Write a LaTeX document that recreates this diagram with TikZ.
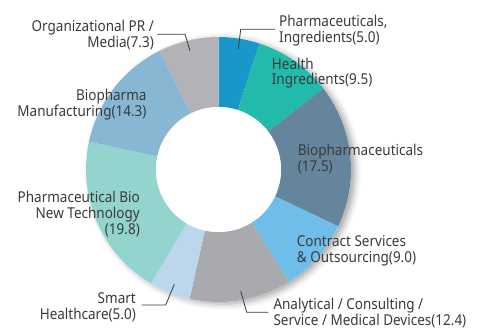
\documentclass[tikz,border=0pt]{standalone}
\usepackage{fontspec}
\setmainfont{Noto Sans}[FakeStretch=0.9]
\usepackage{tikz}
\usetikzlibrary{calc,shadows.blur}
\definecolor{pharmablue}{HTML}{1A97C9}
\definecolor{healthteal}{HTML}{22BBAB}
\definecolor{bioslate}{HTML}{64859B}
\definecolor{contractblue}{HTML}{6FBDE9}
\definecolor{analygrey}{HTML}{A8AAAD}
\definecolor{smartpale}{HTML}{BCD6EB}
\definecolor{newtechmint}{HTML}{94D4CE}
\definecolor{manufblue}{HTML}{87B7D3}
\definecolor{prgrey}{HTML}{B1B3B6}
\definecolor{labelgrey}{HTML}{3A3A3A}
\newcommand*{\Rout}{132.5}
\newcommand*{\Rin}{62.5}
\newcommand*{\DonutPieces}[1]{% #1 = list of from/to/colour (percent of 99.8)
\foreach \from/\to/\col in {#1} {
\pgfmathsetmacro{\a}{90-\from*3.6072}
\pgfmathsetmacro{\b}{90-\to*3.6072}
\fill [\col] (\a:\Rout) arc [start angle=\a, end angle=\b, radius=\Rout]
  -- (\b:\Rin) arc [start angle=\b, end angle=\a, radius=\Rin] -- cycle;
}%
}
\tikzset{
  lbl/.style={draw=none, inner sep=0pt, text=labelgrey,
    font=\fontsize{15}{15.7}\selectfont},
  leader/.style={draw=labelgrey, line width=0.8pt}
}

\begin{document}
\begin{tikzpicture}[x=1pt,y=1pt]
  \useasboundingbox (0,0) rectangle (486,329);

  \begin{scope}[shift={(218.5,159.5)}]
    \fill [white, blur shadow={shadow xshift=4pt, shadow yshift=-2pt,
      shadow blur radius=6pt, shadow opacity=35}] (0,0) circle (\Rout);
    \DonutPieces{0/5.0/pharmablue, 5.0/14.5/healthteal, 14.5/32.0/bioslate,
      32.0/41.0/contractblue, 41.0/53.4/analygrey, 53.4/58.4/smartpale,
      58.4/78.2/newtechmint, 78.2/92.5/manufblue, 92.5/99.8/prgrey}
    \fill [white] (0,0) circle (\Rin);
  \end{scope}

  % labels (base = last line)
  \node [lbl, anchor=base west, align=left] (pharma) at (279,286.5)
    {Pharmaceuticals,\\Ingredients(5.0)};
  \node [lbl, anchor=base west, align=left] (health) at (271.7,244)
    {Health\\Ingredients(9.5)};
  \node [lbl, anchor=base west, align=left] (biopharm) at (297.7,157.3)
    {Biopharmaceuticals\\(17.5)};
  \node [lbl, anchor=base west, align=left] (contract) at (296.7,66.7)
    {Contract Services\\\& Outsourcing(9.0)};
  \node [lbl, anchor=base west, align=left] (analy) at (273.3,4)
    {Analytical / Consulting /\\Service / Medical Devices(12.4)};
  \node [lbl, anchor=base east, align=right] (smart) at (136,9.7)
    {Smart\\Healthcare(5.0)};
  \node [lbl, anchor=base east, align=right] (newtech) at (140,94.7)
    {Pharmaceutical Bio\\New Technology\\(19.8)};
  \node [lbl, anchor=base east, align=right] (manuf) at (146.7,212.3)
    {Biopharma\\Manufacturing(14.3)};
  \node [lbl, anchor=base east, align=right] (orgpr) at (154,281.3)
    {Organizational PR /\\Media(7.3)};

  % leader lines
  \coordinate (pharmaA) at (238.3,280);
  \coordinate (pharmaB) at (240.7,299.7);
  \coordinate (pharmaC) at (275,299.7);
  \coordinate (orgA) at (190,278.3);
  \coordinate (orgB) at (185,294.7);
  \coordinate (orgC) at (157.3,294.7);
  \coordinate (smartA) at (174.3,44.7);
  \coordinate (smartB) at (165.7,24);
  \coordinate (smartC) at (141.7,24);
  \coordinate (analyA) at (240.7,38);
  \coordinate (analyB) at (246.7,16.7);
  \coordinate (analyC) at (268.3,16.7);
  \draw [leader] (pharmaA) -- (pharmaB) -- (pharmaC);
  \draw [leader] (orgA) -- (orgB) -- (orgC);
  \draw [leader] (smartA) -- (smartB) -- (smartC);
  \draw [leader] (analyA) -- (analyB) -- (analyC);
\end{tikzpicture}
\end{document}
